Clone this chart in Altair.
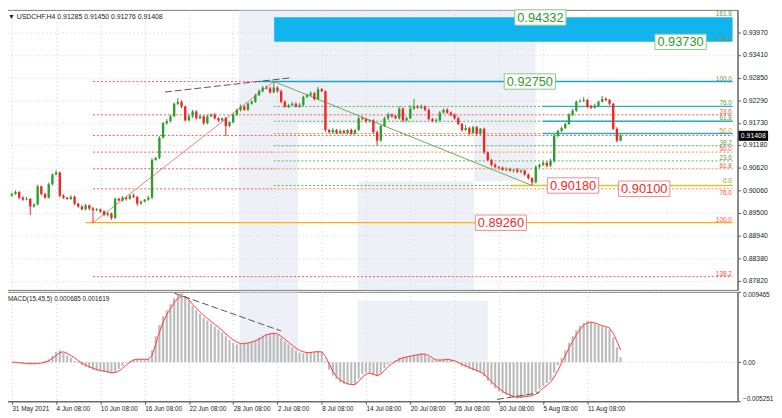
import altair as alt
import pandas as pd

# ---------------- data ----------------
first_open = 0.8993
closes = [
    0.8997, 0.9002, 0.8988, 0.8983, 0.8985, 0.8966, 0.8971, 0.9016, 0.8997, 0.8988,
    0.9021, 0.9045, 0.9050, 0.8993, 0.8988, 0.8985, 0.8990, 0.8973, 0.8966, 0.8959,
    0.8969, 0.8961, 0.8957, 0.8959, 0.8954, 0.8945, 0.8949, 0.8938, 0.8985, 0.8981,
    0.8988, 0.8985, 0.8993, 0.8990, 0.8973, 0.8978, 0.8983, 0.8988, 0.9081, 0.9086,
    0.9136, 0.9172, 0.9177, 0.9189, 0.9220, 0.9225, 0.9213, 0.9179, 0.9189, 0.9201,
    0.9184, 0.9189, 0.9172, 0.9189, 0.9193, 0.9184, 0.9179, 0.9184, 0.9165, 0.9174,
    0.9193, 0.9205, 0.9213, 0.9205, 0.9220, 0.9225, 0.9241, 0.9251, 0.9260, 0.9258,
    0.9248, 0.9260, 0.9251, 0.9225, 0.9213, 0.9217, 0.9220, 0.9213, 0.9217, 0.9237,
    0.9241, 0.9246, 0.9232, 0.9256, 0.9251, 0.9155, 0.9150, 0.9155, 0.9148, 0.9153,
    0.9148, 0.9155, 0.9146, 0.9155, 0.9184, 0.9182, 0.9177, 0.9179, 0.9150, 0.9129,
    0.9165, 0.9184, 0.9193, 0.9189, 0.9184, 0.9208, 0.9179, 0.9184, 0.9208, 0.9213,
    0.9210, 0.9213, 0.9205, 0.9182, 0.9177, 0.9179, 0.9198, 0.9205, 0.9198, 0.9193,
    0.9184, 0.9170, 0.9155, 0.9160, 0.9148, 0.9162, 0.9146, 0.9158, 0.9100, 0.9081,
    0.9069, 0.9064, 0.9062, 0.9057, 0.9059, 0.9055, 0.9057, 0.9052, 0.9055, 0.9045,
    0.9036, 0.9026, 0.9064, 0.9069, 0.9074, 0.9067, 0.9079, 0.9141, 0.9153, 0.9160,
    0.9170, 0.9193, 0.9203, 0.9225, 0.9227, 0.9229, 0.9213, 0.9210, 0.9215, 0.9225,
    0.9232, 0.9229, 0.9220, 0.9158, 0.91285, 0.91408,
]
wick_up = [
    3, 4, 2, 3, 5, 2, 3, 4, 2, 3,  4, 3, 6, 2, 3, 2, 4, 3, 2, 3,
    3, 2, 4, 3, 2, 3, 4, 2, 3, 3,  4, 2, 3, 5, 2, 3, 2, 4, 5, 3,
    4, 3, 5, 4, 3, 9, 4, 3, 5, 4,  3, 4, 2, 5, 3, 4, 3, 2, 4, 3,
    4, 3, 5, 3, 4, 3, 4, 5, 4, 5,  4, 15, 3, 4, 3, 2, 4, 3, 5, 3,
    4, 5, 3, 6, 3, 2, 3, 5, 3, 4,  3, 2, 4, 3, 5, 4, 3, 2, 3, 4,
    3, 4, 5, 3, 4, 6, 3, 4, 8, 19, 4, 5, 3, 4, 3, 5, 4, 3, 4, 3,
    3, 4, 3, 8, 3, 4, 3, 2, 3, 2,  3, 4, 2, 3, 4, 3, 2, 4, 3, 2,
    3, 2, 4, 3, 4, 3, 5, 4, 3, 4,  3, 4, 5, 3, 4, 8, 3, 4, 5, 3,
    7, 4, 3, 2, 4, 4,
]
wick_dn = [
    3, 2, 4, 3, 2, 21, 3, 2, 4, 3,  2, 3, 2, 4, 3, 2, 3, 4, 3, 2,
    3, 4, 31, 3, 4, 3, 4, 5, 3, 2,  3, 4, 2, 3, 5, 3, 2, 3, 4, 2,
    3, 2, 4, 3, 2, 3, 4, 3, 2, 4,  3, 2, 4, 3, 2, 3, 4, 3, 25, 3,
    2, 3, 4, 2, 3, 2, 3, 2, 3, 2,  3, 2, 3, 4, 3, 4, 3, 2, 3, 4,
    3, 2, 4, 3, 2, 4, 3, 5, 3, 4,  3, 4, 3, 2, 3, 2, 4, 3, 4, 12,
    3, 2, 4, 3, 2, 3, 4, 3, 2, 3,  2, 3, 4, 3, 2, 4, 3, 2, 3, 4,
    3, 2, 4, 3, 5, 3, 4, 3, 4, 3,  4, 3, 5, 3, 4, 3, 5, 3, 4, 3,
    3, 8, 3, 4, 3, 4, 3, 5, 4, 3,  3, 2, 4, 3, 2, 3, 4, 3, 2, 3,
    2, 3, 4, 3, 4, 1,
]
macd_main = [
    0.0000, -0.0001, -0.0001, -0.0002, -0.0002, -0.0003, -0.0002, -0.0001, 0.0000, 0.0002,
    0.0004, 0.0009, 0.0014, 0.0016, 0.0013, 0.0009, 0.0006, 0.0002, -0.0001, -0.0004,
    -0.0006, -0.0008, -0.0010, -0.0011, -0.0012, -0.0013, -0.0014, -0.0015, -0.0013, -0.0009,
    -0.0005, -0.0001, 0.0002, 0.0004, 0.0004, 0.0004, 0.0004, 0.0005, 0.0016, 0.0035,
    0.0050, 0.0062, 0.0070, 0.0078, 0.0086, 0.0091, 0.0093, 0.0089, 0.0083, 0.0076,
    0.0070, 0.0065, 0.0060, 0.0056, 0.0052, 0.0048, 0.0044, 0.0040, 0.0035, 0.0030,
    0.0026, 0.0024, 0.0024, 0.0025, 0.0026, 0.0028, 0.0030, 0.0033, 0.0036, 0.0038,
    0.0039, 0.0039, 0.0037, 0.0033, 0.0028, 0.0024, 0.0020, 0.0016, 0.0013, 0.0012,
    0.0013, 0.0014, 0.0014, 0.0015, 0.0014, 0.0002, -0.0010, -0.0018, -0.0023, -0.0027,
    -0.0029, -0.0030, -0.0030, -0.0029, -0.0022, -0.0016, -0.0014, -0.0015, -0.0017, -0.0019,
    -0.0014, -0.0008, -0.0003, 0.0001, 0.0003, 0.0006, 0.0007, 0.0008, 0.0009, 0.0010,
    0.0011, 0.0012, 0.0011, 0.0007, 0.0004, 0.0002, 0.0003, 0.0004, 0.0004, 0.0003,
    0.0001, -0.0002, -0.0005, -0.0007, -0.0009, -0.0011, -0.0013, -0.0014, -0.0019, -0.0025,
    -0.0030, -0.0035, -0.0039, -0.0042, -0.0044, -0.0046, -0.0048, -0.0049, -0.0048, -0.0046,
    -0.0045, -0.0044, -0.0040, -0.0036, -0.0032, -0.0028, -0.0024, -0.0014, -0.0004, 0.0006,
    0.0016, 0.0026, 0.0035, 0.0043, 0.0049, 0.0053, 0.0055, 0.0054, 0.0052, 0.0050,
    0.0048, 0.0047, 0.0044, 0.0033, 0.0020, 0.000685,
]
macd_signal = [
    0.0000, 0.0000, -0.0001, -0.0001, -0.0002, -0.0002, -0.0002, -0.0002, -0.0001, 0.0000,
    0.0002, 0.0005, 0.0009, 0.0013, 0.0014, 0.0012, 0.0009, 0.0006, 0.0002, -0.0001,
    -0.0004, -0.0006, -0.0008, -0.0010, -0.0011, -0.0012, -0.0013, -0.0014, -0.0014, -0.0012,
    -0.0008, -0.0004, 0.0000, 0.0003, 0.0004, 0.0004, 0.0004, 0.0004, 0.0009, 0.0024,
    0.0040, 0.0054, 0.0064, 0.0072, 0.0080, 0.0086, 0.0089, 0.0088, 0.0084, 0.0078,
    0.0073, 0.0068, 0.0063, 0.0059, 0.0055, 0.0051, 0.0047, 0.0043, 0.0038, 0.0034,
    0.0030, 0.0027, 0.0025, 0.0025, 0.0026, 0.0027, 0.0029, 0.0031, 0.0034, 0.0037,
    0.0038, 0.0039, 0.0038, 0.0035, 0.0031, 0.0027, 0.0023, 0.0019, 0.0016, 0.0014,
    0.0013, 0.0013, 0.0014, 0.0014, 0.0014, 0.0008, -0.0002, -0.0012, -0.0019, -0.0024,
    -0.0027, -0.0029, -0.0030, -0.0030, -0.0026, -0.0020, -0.0016, -0.0015, -0.0016, -0.0018,
    -0.0016, -0.0011, -0.0006, -0.0002, 0.0001, 0.0004, 0.0006, 0.0007, 0.0008, 0.0009,
    0.0010, 0.0011, 0.0011, 0.0009, 0.0006, 0.0003, 0.0003, 0.0003, 0.0004, 0.0003,
    0.0002, 0.0000, -0.0003, -0.0005, -0.0007, -0.0009, -0.0011, -0.0013, -0.0016, -0.0021,
    -0.0026, -0.0031, -0.0035, -0.0039, -0.0042, -0.0044, -0.0046, -0.0047, -0.0047, -0.0046,
    -0.0046, -0.0045, -0.0043, -0.0039, -0.0035, -0.0031, -0.0027, -0.0020, -0.0011, -0.0001,
    0.0009, 0.0019, 0.0028, 0.0037, 0.0044, 0.0050, 0.0053, 0.0054, 0.0053, 0.0051,
    0.0049, 0.0048, 0.0046, 0.0039, 0.0028, 0.001619,
]

date_labels = ["31 May 2021", "4 Jun 08:00", "10 Jun 08:00", "16 Jun 08:00", "22 Jun 08:00",
               "28 Jun 08:00", "2 Jul 08:00", "8 Jul 08:00", "14 Jul 08:00", "20 Jul 08:00",
               "26 Jul 08:00", "30 Jul 08:00", "5 Aug 08:00", "11 Aug 08:00"]
date_idx = [0, 24, 48, 72, 96, 120, 144, 168, 192, 216, 240, 264, 288, 312]
price_ticks = [0.93970, 0.93410, 0.92850, 0.92290, 0.91730, 0.91180, 0.90620,
               0.90060, 0.89500, 0.88940, 0.88380, 0.87820]
macd_ticks = [-0.005251, 0.0, 0.009465]

# fibonacci levels: dotted and solid horizontal segments (bar index from / to, price, colour)
dot_from = [44, 44, 44, 44, 142, 44, 142, 44, 142, 44, 142, 142, 142, 142, 142, 142]
dot_to = [134, 390.7, 390.7, 142, 390.7, 142, 390.7, 142, 390.7, 390.7, 390.7, 390.7, 390.7, 390.7, 390.7, 390.7]
dot_price = [0.92750, 0.91926, 0.91417, 0.91005, 0.91005, 0.90593, 0.90593, 0.90098, 0.90098, 0.87927,
             0.92133, 0.91768, 0.91465, 0.91162, 0.90787, 0.90180]
dot_color = ["#f05a5a", "#f05a5a", "#f05a5a", "#f05a5a", "#f0904a", "#f05a5a", "#f0904a", "#f05a5a", "#f0904a",
             "#f05a5a", "#5cb05c", "#5cb05c", "#e0a030", "#5cb05c", "#5cb05c", "#5cb05c"]
solid_from = [134, 288, 288, 288, 40, 271]
solid_to = [390.7, 390.7, 390.7, 390.7, 390.7, 390.7]
solid_price = [0.92750, 0.92133, 0.91768, 0.91465, 0.89260, 0.90180]
solid_color = ["#17a6c8", "#22b2cc", "#22b2cc", "#22b2cc", "#ffb000", "#d2cc28"]
zone_from, zone_to, zone_lo, zone_hi = [142.2], [390.7], [0.93732], [0.94338]

fib_text = ["161.8", "138.2", "100.0", "76.0", "61.8", "50.0", "38.2", "23.6", "0.0",
            "23.6", "50.0", "61.8", "76.0", "100.0", "138.2"]
fib_price = [0.94338, 0.93732, 0.92750, 0.92133, 0.91768, 0.91465, 0.91162, 0.90787, 0.90180,
             0.91926, 0.91005, 0.90593, 0.90098, 0.89260, 0.87927]
fib_place = ["on", "on", "on", "on", "on", "on", "on", "on", "up",
             "on", "on", "on", "down", "on", "on"]
fib_color = ["#6a9e3a"] * 5 + ["#d49a20"] + ["#6a9e3a"] * 3 + ["#ff4a4a"] * 6

trend_x1, trend_x2 = [44, 142], [142, 282]
trend_p1, trend_p2 = [0.89260, 0.92750], [0.92750, 0.90180]
trend_color = ["#f47c7c", "#62ae62"]
div_x1, div_x2, div_p1, div_p2 = [83], [151], [0.92490], [0.92840]
mdiv_x1, mdiv_x2 = [88, 263], [146, 286]
mdiv_v1, mdiv_v2 = [0.0093, -0.0050], [0.0042, -0.0041]

box_text = ["0.94332", "0.93730", "0.92750", "0.90180", "0.90100", "0.89260"]
box_idx = [286.5, 362.5, 280.8, 304.2, 342.8, 265.1]
box_price = [0.94332, 0.93730, 0.92750, 0.90180, 0.90100, 0.89260]
box_text_color = ["#2f9a2f", "#2f9a2f", "#2f9a2f", "#f02a2a", "#f02a2a", "#f02a2a"]
box_edge_color = ["#88c888", "#88c888", "#88c888", "#f08a8a", "#f08a8a", "#f08a8a"]

# background logo (watermark), bar index / price extents
wm_x1, wm_x2 = [123, 155.25, 187.5], [155.25, 283.9, 250.6]
wm_p1, wm_p2 = [0.9452, 0.9452, 0.90284], [0.8760, 0.91719, 0.8760]
wmr_x1, wmr_x2, wmr_p1, wmr_p2 = [250.6], [283.9], [0.91719], [0.90284]
wmm_x1, wmm_x2 = [123.5, 187.5], [155.25, 258]
wmm_v1, wmm_v2 = [0.009465, 0.0083], [0.0, 0.0]

header = "\u25bc USDCHF,H4  0.91285 0.91450 0.91276 0.91408"
macd_header = "MACD(15,45,5) 0.000685 0.001619"
last_price = 0.91408

# ---------------- chart ----------------
W, H1, H2 = 743, 284, 111
X_DOM = [-1, 390.7]
P_DOM = [0.8760, 0.9452]
M_DOM = [-0.005251, 0.009465]
FONT = "Liberation Sans"
WM_FILL = "#d3dcea"
WM_OP = 0.42

n = len(closes)
opens = [first_open] + closes[:-1]
candles = pd.DataFrame({
    "idx": [2 * k for k in range(n)],
    "open": opens,
    "close": closes,
    "high": [max(o, c) + u * 1e-4 for o, c, u in zip(opens, closes, wick_up)],
    "low": [min(o, c) - d * 1e-4 for o, c, d in zip(opens, closes, wick_dn)],
})
candles["col"] = ["#2e9e2e" if c >= o else "#f02424" for o, c in zip(opens, closes)]
macd_df = pd.DataFrame({"idx": [2 * k for k in range(n)], "macd": macd_main,
                        "signal": macd_signal, "zero": [0.0] * n})

xs = alt.Scale(domain=X_DOM, nice=False, zero=False)
ps = alt.Scale(domain=P_DOM, nice=False, zero=False)
ms = alt.Scale(domain=M_DOM, nice=False, zero=False)

date_expr = "[" + ",".join("'%s'" % d for d in date_labels) + "][round(datum.value/24)]"

px_axis = alt.Axis(values=date_idx, grid=True, gridDash=[1, 3], gridColor="#cccccc",
                   labels=False, ticks=False, domain=False, title=None)
py_axis = alt.Axis(orient="right", values=price_ticks, format=".5f", grid=True, gridDash=[1, 3],
                   gridColor="#d2d2d2", labelFont=FONT, labelFontSize=7, labelColor="#222",
                   tickSize=3, tickColor="#555", domainColor="#555", labelPadding=2, title=None)
mx_axis = alt.Axis(values=date_idx, labelExpr=date_expr, labelAlign="left", labelFont=FONT,
                   labelFontSize=6.5, labelColor="#222", tickSize=3, tickColor="#555",
                   domainColor="#555", grid=True, gridDash=[1, 3], gridColor="#cccccc",
                   labelPadding=1, labelOverlap=False, labelFlush=False, title=None)
my_axis = alt.Axis(orient="right", values=macd_ticks,
                   labelExpr="datum.value == 0 ? '0.00' : format(datum.value, '.6f')",
                   grid=True, gridDash=[1, 3], gridColor="#cccccc", labelFont=FONT,
                   labelFontSize=6.5, labelColor="#222", tickSize=3, tickColor="#555",
                   domainColor="#555", labelPadding=2, labelFlush=True, title=None)


def PX(f):
    return alt.X(f, type="quantitative", scale=xs, axis=px_axis)


def PY(f):
    return alt.Y(f, type="quantitative", scale=ps, axis=py_axis)


def MX(f):
    return alt.X(f, type="quantitative", scale=xs, axis=mx_axis)


def MY(f):
    return alt.Y(f, type="quantitative", scale=ms, axis=my_axis)


wm = alt.Chart(pd.DataFrame({"x1": wm_x1, "x2": wm_x2, "p1": wm_p1, "p2": wm_p2})).mark_rect(
    color=WM_FILL, opacity=WM_OP).encode(x=PX("x1"), x2="x2:Q", y=PY("p1"), y2="p2:Q")
wm_round = alt.Chart(pd.DataFrame({"x1": wmr_x1, "x2": wmr_x2, "p1": wmr_p1, "p2": wmr_p2})).mark_rect(
    color=WM_FILL, opacity=WM_OP, cornerRadiusBottomRight=28).encode(
    x=PX("x1"), x2="x2:Q", y=PY("p1"), y2="p2:Q")

zone = alt.Chart(pd.DataFrame({"x1": zone_from, "x2": zone_to, "lo": zone_lo, "hi": zone_hi})).mark_rect(
    color="#12b4ef").encode(x=PX("x1"), x2="x2:Q", y=PY("lo"), y2="hi:Q")

dots = alt.Chart(pd.DataFrame({"x1": dot_from, "x2": dot_to, "p": dot_price, "c": dot_color})).mark_rule(
    strokeDash=[2, 2], strokeWidth=1).encode(
    x=PX("x1"), x2="x2:Q", y=PY("p"), color=alt.Color("c:N", scale=None))
solids = alt.Chart(pd.DataFrame({"x1": solid_from, "x2": solid_to, "p": solid_price, "c": solid_color})).mark_rule(
    strokeWidth=1.3).encode(
    x=PX("x1"), x2="x2:Q", y=PY("p"), color=alt.Color("c:N", scale=None))

trends = alt.Chart(pd.DataFrame({"x1": trend_x1, "x2": trend_x2, "p1": trend_p1, "p2": trend_p2,
                                 "c": trend_color})).mark_rule(strokeWidth=1).encode(
    x=PX("x1"), x2="x2:Q", y=PY("p1"), y2="p2:Q", color=alt.Color("c:N", scale=None))
div = alt.Chart(pd.DataFrame({"x1": div_x1, "x2": div_x2, "p1": div_p1, "p2": div_p2})).mark_rule(
    strokeWidth=1, color="#555555", strokeDash=[7, 3]).encode(
    x=PX("x1"), x2="x2:Q", y=PY("p1"), y2="p2:Q")

wicks = alt.Chart(candles).mark_rule(strokeWidth=1).encode(
    x=PX("idx"), y=PY("low"), y2="high:Q", color=alt.Color("col:N", scale=None))
bodies = alt.Chart(candles).mark_bar(size=2.4).encode(
    x=PX("idx"), y=PY("open"), y2="close:Q", color=alt.Color("col:N", scale=None))

fib_df = pd.DataFrame({"idx": [390.3] * len(fib_text), "p": fib_price, "t": fib_text,
                       "place": fib_place, "c": fib_color})


def fib_text_layer(place, dy):
    return alt.Chart(fib_df).transform_filter(alt.datum.place == place).mark_text(
        align="right", baseline="bottom", font=FONT, fontSize=6.5, dy=dy).encode(
        x=PX("idx"), y=PY("p"), text="t:N", color=alt.Color("c:N", scale=None))


fib_on = fib_text_layer("on", 0)
fib_up = fib_text_layer("up", -2)
fib_down = fib_text_layer("down", 7)

BOX = "M-1,-0.3L1,-0.3L1,0.3L-1,0.3Z"
box_df = pd.DataFrame({"idx": box_idx, "p": box_price, "t": box_text,
                       "tc": box_text_color, "bc": box_edge_color})
boxes = alt.Chart(box_df).mark_point(shape=BOX, size=2704, filled=True, fill="white",
                                     strokeWidth=1, opacity=1).encode(
    x=PX("idx"), y=PY("p"), stroke=alt.Stroke("bc:N", scale=None))
box_txt = alt.Chart(box_df).mark_text(font=FONT, fontSize=13, baseline="middle", dy=0.5).encode(
    x=PX("idx"), y=PY("p"), text="t:N", color=alt.Color("tc:N", scale=None))

last_df = pd.DataFrame({"p": [last_price], "t": ["%.5f" % last_price]})
last_box = alt.Chart(last_df).mark_point(shape="M-1,-0.34L1,-0.34L1,0.34L-1,0.34Z", size=900,
                                         filled=True, color="#000000", opacity=1).encode(
    x=alt.value(W + 16), y=PY("p"))
last_txt = alt.Chart(last_df).mark_text(font=FONT, fontSize=7, color="white", baseline="middle").encode(
    x=alt.value(W + 16), y=PY("p"), text="t:N")

head = alt.Chart(pd.DataFrame({"t": [header]})).mark_text(
    align="left", baseline="middle", font=FONT, fontSize=7, color="#222").encode(
    x=alt.value(3), y=alt.value(7), text="t:N")

price = alt.layer(wm, wm_round, zone, dots, solids, trends, div, wicks, bodies,
                  fib_on, fib_up, fib_down, boxes, box_txt, last_box, last_txt, head
                  ).properties(width=W, height=H1)

# ---- MACD panel ----
mwm = alt.Chart(pd.DataFrame({"x1": wmm_x1, "x2": wmm_x2, "v1": wmm_v1, "v2": wmm_v2})).mark_rect(
    color=WM_FILL, opacity=WM_OP).encode(x=MX("x1"), x2="x2:Q", y=MY("v1"), y2="v2:Q")
hist = alt.Chart(macd_df).mark_bar(size=2.2, color="#bcbcbc").encode(
    x=MX("idx"), y=MY("macd"), y2="zero:Q")
sig = alt.Chart(macd_df).mark_line(color="#ff3c3c", strokeWidth=1).encode(
    x=MX("idx"), y=MY("signal"))
mdiv = alt.Chart(pd.DataFrame({"x1": mdiv_x1, "x2": mdiv_x2, "v1": mdiv_v1, "v2": mdiv_v2})).mark_rule(
    strokeWidth=1, color="#555555", strokeDash=[7, 3]).encode(
    x=MX("x1"), x2="x2:Q", y=MY("v1"), y2="v2:Q")
mhead = alt.Chart(pd.DataFrame({"t": [macd_header]})).mark_text(
    align="left", baseline="middle", font=FONT, fontSize=6.5, color="#222").encode(
    x=alt.value(3), y=alt.value(7), text="t:N")

macd = alt.layer(mwm, hist, sig, mdiv, mhead).properties(width=W, height=H2)

chart = alt.vconcat(price, macd, spacing=0).properties(
    padding={"left": -4, "top": -4, "right": 0, "bottom": 0}, background="white"
).configure_view(stroke="#7a7a7a", strokeWidth=1)

chart.save("out.html", embed_options={"renderer": "svg", "actions": False})
